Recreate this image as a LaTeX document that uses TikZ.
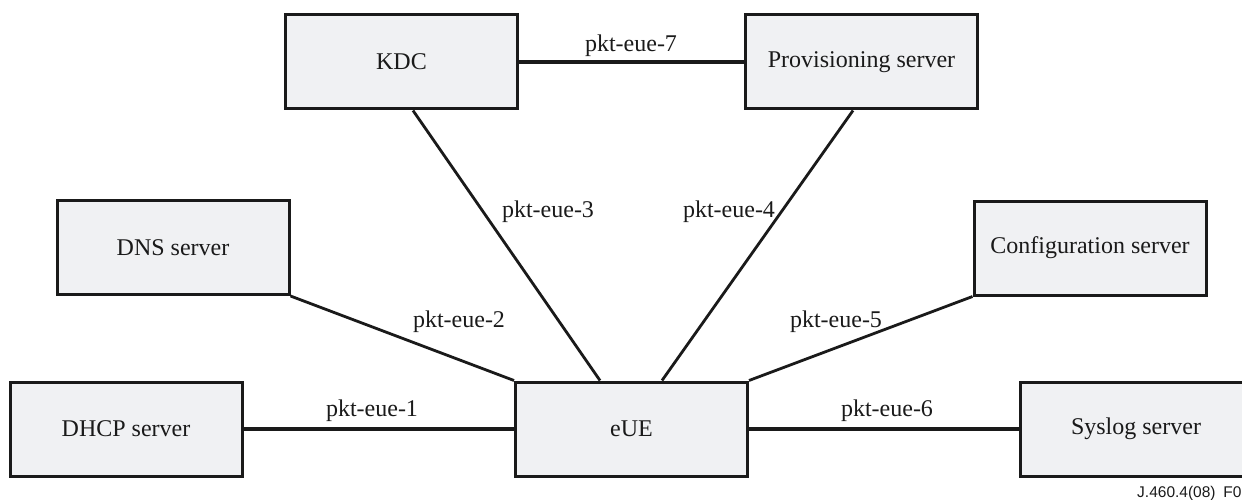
\documentclass[tikz,border=0pt]{standalone}
\usepackage{fontspec}
\setmainfont{Liberation Serif}
\newfontfamily\figsans{Liberation Sans}
\definecolor{boxfill}{RGB}{240,241,243}
\definecolor{ink}{RGB}{26,26,26}
\begin{document}
\begin{tikzpicture}[x=1pt,y=-1pt,
  srvbox/.style={draw=ink, line width=3pt, fill=boxfill, minimum width=232pt, minimum height=94pt, inner sep=0pt, font=\fontsize{24}{28}\selectfont, text=ink},
  lbl/.style={inner sep=0pt, font=\fontsize{24}{28}\selectfont, text=ink},
  heavy/.style={draw=ink, line width=4.5pt},
  light/.style={draw=ink, line width=2.8pt}]
\useasboundingbox (0,0) rectangle (1242,500);
\clip (0,0) rectangle (1242,500);
% connectors (drawn first, boxes on top)
\node[srvbox] (dhcp) at (126,429) {DHCP server};
\node[srvbox] (dns) at (173,247.5) {DNS server};
\node[srvbox] (kdc) at (401.5,62) {KDC};
\node[srvbox] (prov) at (861.5,62) {Provisioning server};
\node[srvbox] (eue) at (631.5,429) {eUE};
\node[srvbox] (conf) at (1090,248) {Configuration server};
\node[srvbox] (sys) at (1136,429) {Syslog server};
\begin{scope}[on background layer/.style={}]
\draw[heavy] (dhcp.east) -- (eue.west);
\draw[heavy] (eue.east) -- (sys.west);
\draw[heavy] (kdc.east) -- (prov.west);
\draw[light] (dns.south east) -- (eue.north west);
\draw[light] ([xshift=11.5pt]kdc.south) -- ([xshift=-31.5pt]eue.north);
\draw[light] ([xshift=-8.5pt]prov.south) -- ([xshift=30.5pt]eue.north);
\draw[light] (conf.south west) -- (eue.north east);
\end{scope}
\node[lbl] (l1) at (372,411) {pkt-eue-1};
\node[lbl] (l2) at (459,322) {pkt-eue-2};
\node[lbl] (l3) at (548,212) {pkt-eue-3};
\node[lbl] (l4) at (729,212) {pkt-eue-4};
\node[lbl] (l5) at (836,322) {pkt-eue-5};
\node[lbl] (l6) at (887,411) {pkt-eue-6};
\node[lbl] (l7) at (631,46) {pkt-eue-7};
\node[inner sep=0pt, anchor=base west, font=\figsans\fontsize{15.5}{18}\selectfont, text=ink] (fig) at (1137,497) {J.460.4(08)\,\,\,F01};
\end{tikzpicture}
\end{document}
